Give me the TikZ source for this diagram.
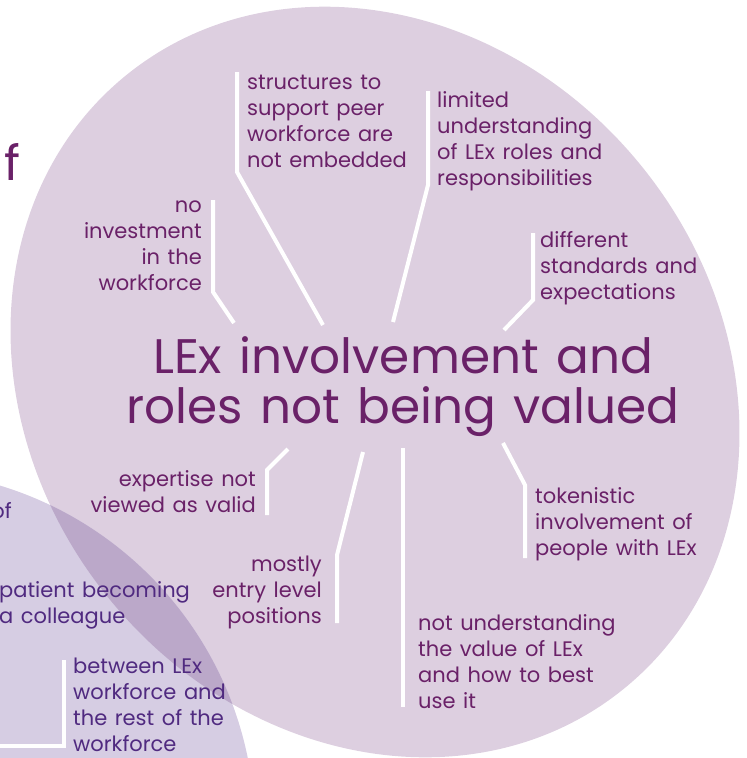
\documentclass[tikz,border=0pt]{standalone}
\usepackage{fontspec}
\setmainfont{Poppins}[WordSpace=1.35]
\definecolor{mauve}{RGB}{221,207,224}
\definecolor{lavender}{RGB}{214,205,227}
\definecolor{overlap}{RGB}{187,168,201}
\definecolor{plum}{RGB}{106,33,104}
\definecolor{indigo}{RGB}{80,42,128}
\begin{document}
\begin{tikzpicture}[x=1pt,y=-1pt,
  lbl/.style={font=\fontsize{21}{26}\selectfont, text=plum, inner sep=0pt},
  lft/.style={lbl, align=left, anchor=base west},
  rgt/.style={lbl, align=right, anchor=base east},
  leader/.style={draw=white, line width=4pt, line join=miter},
  bigdisc/.style={rotate around={-51:(375,382)}}]
\useasboundingbox (0,0) rectangle (747,758);
\clip (0,0) rectangle (747,758);

% the two overlapping discs
\fill[mauve, bigdisc] (375,382) ellipse [x radius=395pt, y radius=343pt];
\fill[lavender] (-105,830) circle [radius=360pt];
\begin{scope}
  \clip (-105,830) circle [radius=360pt];
  \fill[overlap, bigdisc] (375,382) ellipse [x radius=395pt, y radius=343pt];
\end{scope}

% central statement
\node (title) [font=\fontsize{48.5}{50}\selectfont, text=plum, align=center, anchor=base, inner sep=0pt]
  at (403,423) {LEx involvement and\\roles not being valued};

% leader lines
\coordinate (a1) at (323,325); \coordinate (b1) at (237,172); \coordinate (c1) at (237,72);
\coordinate (a2) at (393,322); \coordinate (b2) at (428,185); \coordinate (c2) at (428,91);
\coordinate (a3) at (234,323); \coordinate (b3) at (213,292); \coordinate (c3) at (213,200);
\coordinate (a4) at (504,330); \coordinate (b4) at (533,300); \coordinate (c4) at (533,233);
\coordinate (a5) at (503,443); \coordinate (b5) at (525,485); \coordinate (c5) at (525,558);
\coordinate (a6) at (403,448); \coordinate (c6) at (403,707);
\coordinate (a7) at (363,452); \coordinate (b7) at (337,555); \coordinate (c7) at (337,623);
\coordinate (a8) at (288,449); \coordinate (b8) at (267,470); \coordinate (c8) at (267,515);
\coordinate (a9) at (64,660);  \coordinate (b9) at (64,746);  \coordinate (c9) at (-5,746);
\draw[leader] (a1) -- (b1) -- (c1);
\draw[leader] (a2) -- (b2) -- (c2);
\draw[leader] (a3) -- (b3) -- (c3);
\draw[leader] (a4) -- (b4) -- (c4);
\draw[leader] (a5) -- (b5) -- (c5);
\draw[leader] (a6) -- (c6);
\draw[leader] (a7) -- (b7) -- (c7);
\draw[leader] (a8) -- (b8) -- (c8);
\draw[leader] (a9) -- (b9) -- (c9);

% labels (anchored on the baseline of their last line)
\node (n1) [lft] at (247,167) {structures to\\support peer\\workforce are\\not embedded};
\node (n2) [lft] at (437,185) {limited\\understanding\\of LEx roles and\\responsibilities};
\node (n3) [rgt] at (202,290) {no\\investment\\in the\\workforce};
\node (n4) [lft] at (540,299) {different\\standards and\\expectations};
\node (n5) [lft] at (535,555) {tokenistic\\involvement of\\people with LEx};
\node (n6) [lft] at (418,708) {not understanding\\the value of LEx\\and how to best\\use it};
\node (n7) [rgt] at (322,623) {mostly\\entry level\\positions};
\node (n8) [rgt] at (256,512) {expertise not\\viewed as valid};
\node (n9) [lft, text=indigo] at (73,751) {between LEx\\workforce and\\the rest of the\\workforce};
\node (n10) [lft, text=indigo] at (-1,623) {patient becoming\\a colleague};
\node (n11) [rgt, text=indigo] at (12,518) {of};
\node (n12) [font=\fontsize{48.5}{50}\selectfont, text=plum, anchor=base west, inner sep=0pt] at (4,180) {f};
\end{tikzpicture}
\end{document}
